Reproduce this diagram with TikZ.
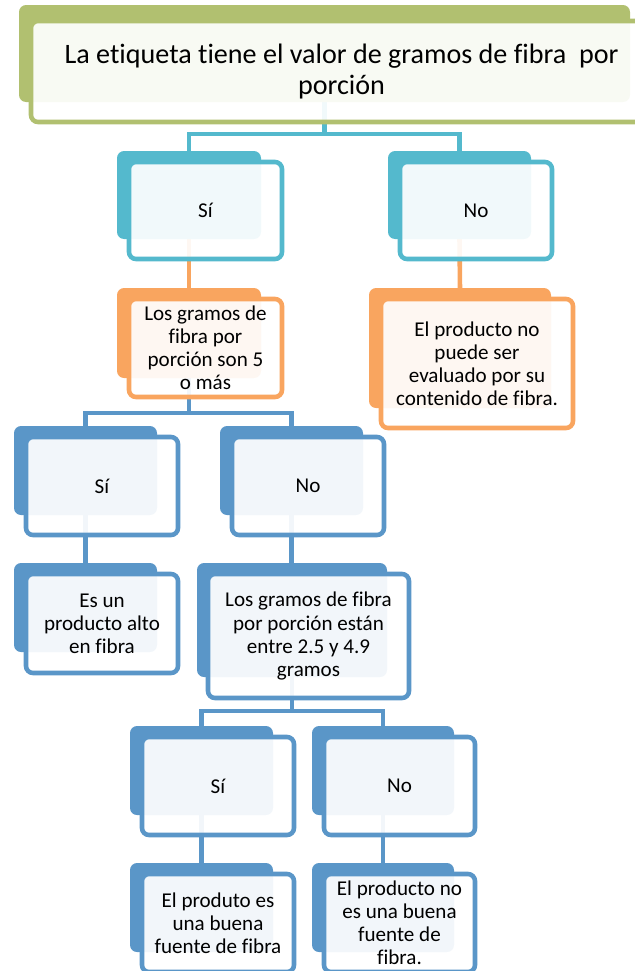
\documentclass[tikz,border=0pt]{standalone}
\usepackage{fontspec}
\setmainfont{Carlito}[Ligatures=NoCommon]
\usetikzlibrary{backgrounds}

\definecolor{grnc}{RGB}{177,192,112}
\definecolor{tealc}{RGB}{84,185,205}
\definecolor{orac}{RGB}{249,165,95}
\definecolor{bluc}{RGB}{90,150,200}

\begin{document}
\begin{tikzpicture}[x=0.02cm, y=-0.02cm,
        back/.style={fill=#1, rounded corners=4pt, anchor=north west,
          inner sep=0pt, outer sep=0pt},
        front/.style={draw=#1, line width=2.6pt, rounded corners=4pt,
          fill=white, fill opacity=0.92, text opacity=1, anchor=north west,
          inner sep=0pt, outer sep=0pt, align=center,
          font=\fontsize{12}{13.1}\selectfont},
        conn/.style={draw=#1, line width=2.6pt},
      ]
        \def\u{0.02cm}  % one pixel of the page
        \useasboundingbox (0,0) rectangle (635,971);

        % Question
        \node[back=grnc, minimum width=611*\u, minimum height=97*\u] (topb) at (19,5) {};
        \node[front=grnc, minimum width=621*\u, minimum height=101*\u,
          font=\fontsize{16}{17.6}\selectfont] (top) at ([shift={(12,16)}]topb.north west)
          {La etiqueta tiene el valor de gramos de fibra~ por\\porción};

        % Level 1
        \node[back=tealc, minimum width=144*\u, minimum height=88*\u] (si1b) at (117,151) {};
        \node[front=tealc, minimum width=153*\u, minimum height=97*\u] (si1) at ([shift={(12,11)}]si1b.north west) {Sí};

        \node[back=tealc, minimum width=143*\u, minimum height=88*\u] (no1b) at (388,151) {};
        \node[front=tealc, minimum width=152*\u, minimum height=97*\u] (no1) at ([shift={(12,11)}]no1b.north west) {No};

        % Level 2
        \node[back=orac, minimum width=144*\u, minimum height=90*\u] (or1b) at (117,288) {};
        \node[front=orac, minimum width=153*\u, minimum height=98*\u] (or1) at ([shift={(12,11)}]or1b.north west)
          {Los gramos de\\fibra por\\porción son 5\\o más};

        \node[back=orac, minimum width=182*\u, minimum height=120*\u] (or2b) at (369,288) {};
        \node[front=orac, minimum width=192*\u, minimum height=129*\u] (or2) at ([shift={(12,11)}]or2b.north west)
          {El producto no\\puede ser\\evaluado por su\\contenido de fibra.};

        % Level 3
        \node[back=bluc, minimum width=143*\u, minimum height=89*\u] (si2b) at (14,426) {};
        \node[front=bluc, minimum width=152*\u, minimum height=98*\u] (si2) at ([shift={(12,11)}]si2b.north west) {Sí};

        \node[back=bluc, minimum width=143*\u, minimum height=89*\u] (no2b) at (220,426) {};
        \node[front=bluc, minimum width=152*\u, minimum height=98*\u] (no2) at ([shift={(12,11)}]no2b.north west) {No};

        % Level 4
        \node[back=bluc, minimum width=143*\u, minimum height=89*\u] (altob) at (14,563) {};
        \node[front=bluc, minimum width=152*\u, minimum height=99*\u] (alto) at ([shift={(12,11)}]altob.north west)
          {Es un\\producto alto\\en fibra};

        \node[back=bluc, minimum width=190*\u, minimum height=114*\u] (entreb) at (197,563) {};
        \node[front=bluc, minimum width=201*\u, minimum height=124*\u] (entre) at ([shift={(11,11)}]entreb.north west)
          {Los gramos de fibra\\por porción están\\entre 2.5 y 4.9\\gramos};

        % Level 5
        \node[back=bluc, minimum width=143*\u, minimum height=89*\u] (si3b) at (130,726) {};
        \node[front=bluc, minimum width=152*\u, minimum height=98*\u] (si3) at ([shift={(12,11)}]si3b.north west) {Sí};

        \node[back=bluc, minimum width=142*\u, minimum height=89*\u] (no3b) at (312,726) {};
        \node[front=bluc, minimum width=151*\u, minimum height=98*\u] (no3) at ([shift={(12,11)}]no3b.north west) {No};

        % Level 6
        \node[back=bluc, minimum width=143*\u, minimum height=89*\u] (buenab) at (130,863) {};
        \node[front=bluc, minimum width=152*\u, minimum height=98*\u] (buena) at ([shift={(12,11)}]buenab.north west)
          {El produto es\\una buena\\fuente de fibra};

        \node[back=bluc, minimum width=142*\u, minimum height=89*\u] (nobuenab) at (312,863) {};
        \node[front=bluc, minimum width=151*\u, minimum height=98*\u] (nobuena) at ([shift={(12,11)}]nobuenab.north west)
          {El producto no\\es una buena\\fuente de\\fibra.};

        % Connectors, behind the boxes
        \begin{scope}[on background layer]
          \draw[conn=tealc] (topb.south) -- ++(0,32) -| (si1b.north);
          \draw[conn=tealc] (topb.south) -- ++(0,32) -| (no1b.north);
          \draw[conn=orac] (si1b.south) -- (or1b.north);
          \draw[conn=orac] (no1b.south) -- (or2b.north);
          \draw[conn=bluc] (or1b.south) -- ++(0,35) -| (si2b.north);
          \draw[conn=bluc] (or1b.south) -- ++(0,35) -| (no2b.north);
          \draw[conn=bluc] (si2b.south) -- (altob.north);
          \draw[conn=bluc] (no2b.south) -- (no2b.south |- entreb.north);
          \draw[conn=bluc] (entreb.south) -- ++(0,34) -| (si3b.north);
          \draw[conn=bluc] (entreb.south) -- ++(0,34) -| (no3b.north);
          \draw[conn=bluc] (si3b.south) -- (buenab.north);
          \draw[conn=bluc] (no3b.south) -- (nobuenab.north);
        \end{scope}
      \end{tikzpicture}
\end{document}
